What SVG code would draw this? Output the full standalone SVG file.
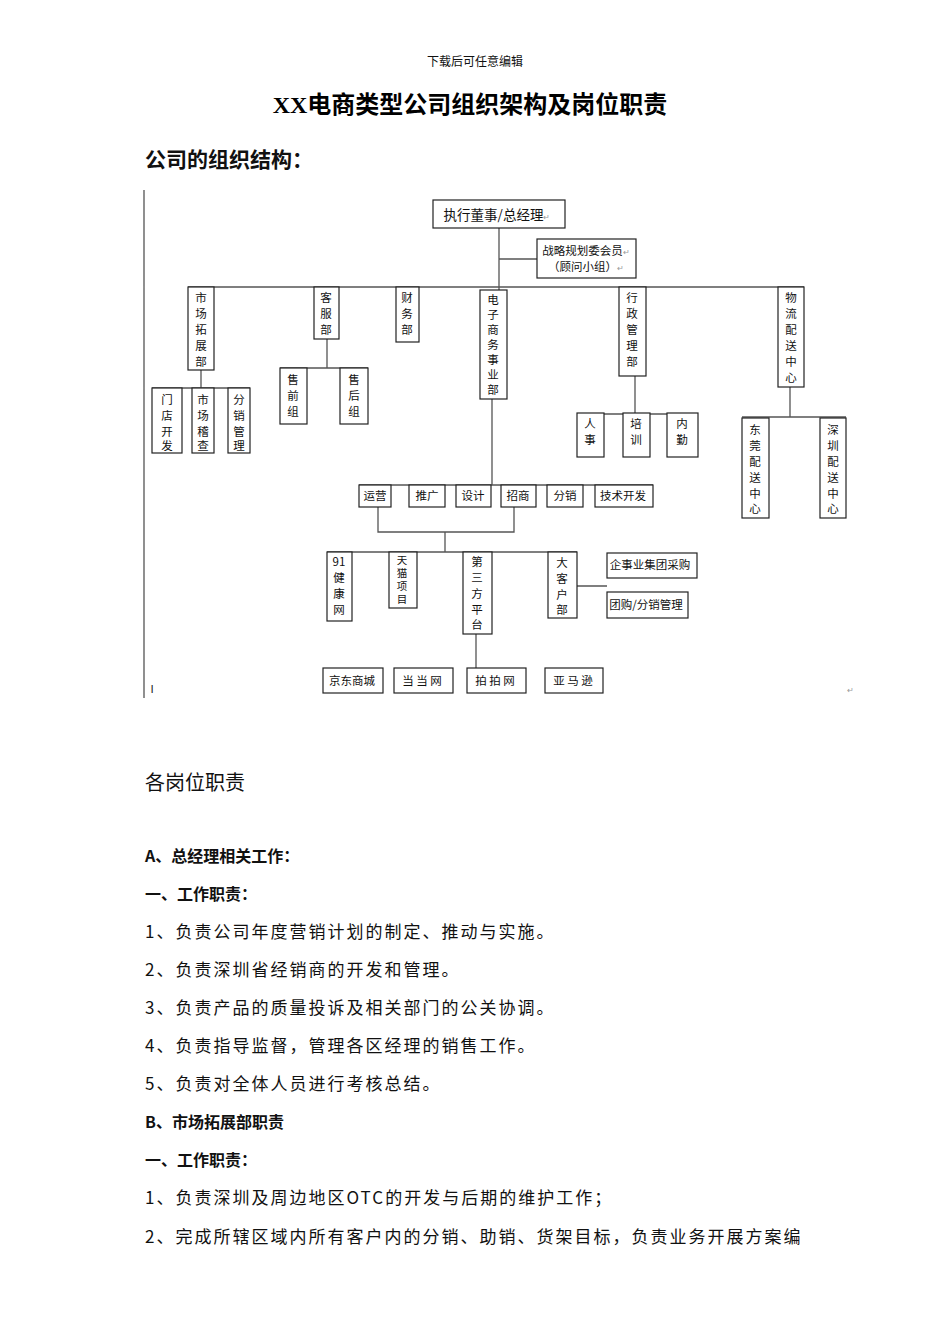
<svg xmlns="http://www.w3.org/2000/svg" width="950" height="1344" viewBox="0 0 950 1344">
<style>
.b{fill:#fff;stroke:#222;stroke-width:1.2}
.l{stroke:#555;stroke-width:1.3;fill:none}
.t{font-family:"Noto Sans CJK SC",sans-serif;font-size:11.5px;fill:#111;text-anchor:middle}
.r{fill:#999;font-size:8px}
.s{font-size:10.5px}
.body{font-family:"Noto Sans CJK SC",sans-serif;font-size:17px;fill:#111;letter-spacing:2px}
.bold{font-weight:bold}
</style>
<rect width="950" height="1344" fill="#fff"/>
<text x="475" y="66" class="t" style="font-size:12px">下载后可任意编辑</text>
<text x="470" y="113" style="font-family:'Liberation Serif','Noto Sans CJK SC',serif;font-size:24px;font-weight:bold;text-anchor:middle">XX电商类型公司组织架构及岗位职责</text>
<text x="145" y="167" class="body bold" style="font-size:21px;letter-spacing:0">公司的组织结构：</text>
<g id="connectors">
<path class="l" d="M144 190V698M499 228V290M499 259H537M188 287H804M201 370V388M152 388H250M327 339V368M280 368H368M635 376V414M577 414H698M790 387V417M742 417H846M492 399V485M359 485H653M378 507V532H514V507M445 532V552M327 552H577M577 586H607M476 634V668"/>
</g>
<g id="n0"><rect class="b" x="433" y="200" width="132" height="28"/><text class="t" x="497" y="220" style="font-size:13.5px">执行董事/总经理<tspan class="r">↵</tspan></text></g>
<g id="n1"><rect class="b" x="537" y="239" width="99" height="39"/><text class="t" x="586" y="255">战略规划委会员<tspan class="r">↵</tspan></text><text class="t" x="586" y="271">（顾问小组）<tspan class="r">↵</tspan></text></g>
<g id="v" class="t">
<rect class="b" x="188" y="287" width="26" height="83"/><text x="201" y="302">市</text><text x="201" y="318">场</text><text x="201" y="334">拓</text><text x="201" y="350">展</text><text x="201" y="366">部</text>
<rect class="b" x="314" y="287" width="25" height="52"/><text x="326" y="302">客</text><text x="326" y="318">服</text><text x="326" y="334">部</text>
<rect class="b" x="396" y="287" width="23" height="55"/><text x="407" y="302">财</text><text x="407" y="318">务</text><text x="407" y="334">部</text>
<rect class="b" x="480" y="290" width="27" height="109"/><text x="493" y="304">电</text><text x="493" y="319">子</text><text x="493" y="334">商</text><text x="493" y="349">务</text><text x="493" y="364">事</text><text x="493" y="379">业</text><text x="493" y="394">部</text>
<rect class="b" x="619" y="287" width="27" height="89"/><text x="632" y="302">行</text><text x="632" y="318">政</text><text x="632" y="334">管</text><text x="632" y="350">理</text><text x="632" y="366">部</text>
<rect class="b" x="778" y="287" width="26" height="100"/><text x="791" y="302">物</text><text x="791" y="318">流</text><text x="791" y="334">配</text><text x="791" y="350">送</text><text x="791" y="366">中</text><text x="791" y="382">心</text>
<rect class="b" x="152" y="388" width="30" height="65"/><text x="167" y="404">门</text><text x="167" y="420">店</text><text x="167" y="436">开</text><text x="167" y="450">发</text>
<rect class="b" x="192" y="388" width="22" height="65"/><text x="203" y="404">市</text><text x="203" y="420">场</text><text x="203" y="436">稽</text><text x="203" y="450">查</text>
<rect class="b" x="228" y="388" width="22" height="65"/><text x="239" y="404">分</text><text x="239" y="420">销</text><text x="239" y="436">管</text><text x="239" y="450">理</text>
<rect class="b" x="280" y="368" width="27" height="56"/><text x="293" y="384">售</text><text x="293" y="400">前</text><text x="293" y="416">组</text>
<rect class="b" x="340" y="368" width="28" height="56"/><text x="354" y="384">售</text><text x="354" y="400">后</text><text x="354" y="416">组</text>
<rect class="b" x="577" y="413" width="27" height="44"/><text x="590" y="428">人</text><text x="590" y="444">事</text>
<rect class="b" x="623" y="413" width="27" height="44"/><text x="636" y="428">培</text><text x="636" y="444">训</text>
<rect class="b" x="667" y="413" width="31" height="44"/><text x="682" y="428">内</text><text x="682" y="444">勤</text>
<rect class="b" x="742" y="418" width="27" height="100"/><text x="755" y="434">东</text><text x="755" y="450">莞</text><text x="755" y="466">配</text><text x="755" y="482">送</text><text x="755" y="498">中</text><text x="755" y="513">心</text>
<rect class="b" x="820" y="418" width="26" height="100"/><text x="833" y="434">深</text><text x="833" y="450">圳</text><text x="833" y="466">配</text><text x="833" y="482">送</text><text x="833" y="498">中</text><text x="833" y="513">心</text>
<rect class="b" x="359" y="485" width="32" height="22"/><text x="375" y="500">运营</text>
<rect class="b" x="409" y="485" width="36" height="22"/><text x="427" y="500">推广</text>
<rect class="b" x="456" y="485" width="35" height="22"/><text x="473" y="500">设计</text>
<rect class="b" x="501" y="485" width="35" height="22"/><text x="518" y="500">招商</text>
<rect class="b" x="547" y="485" width="36" height="22"/><text x="565" y="500">分销</text>
<rect class="b" x="595" y="485" width="58" height="22"/><text x="623" y="500">技术开发</text>
<rect class="b" x="327" y="552" width="25" height="69"/><text x="339" y="566">91</text><text x="339" y="582">健</text><text x="339" y="598">康</text><text x="339" y="614">网</text>
<rect class="b" x="389" y="552" width="28" height="56"/><text class="s" x="402" y="564">天</text><text class="s" x="402" y="577">猫</text><text class="s" x="402" y="590">项</text><text class="s" x="402" y="603">目</text>
<rect class="b" x="463" y="552" width="29" height="82"/><text x="477" y="566">第</text><text x="477" y="582">三</text><text x="477" y="598">方</text><text x="477" y="614">平</text><text x="477" y="629">台</text>
<rect class="b" x="548" y="552" width="29" height="66"/><text x="562" y="567">大</text><text x="562" y="583">客</text><text x="562" y="599">户</text><text x="562" y="614">部</text>
<rect class="b" x="607" y="553" width="90" height="25"/><text x="650" y="569">企事业集团采购</text>
<rect class="b" x="607" y="592" width="81" height="26"/><text x="646" y="609">团购/分销管理</text>
<rect class="b" x="323" y="668" width="60" height="25"/><text x="352" y="685">京东商城</text>
<rect class="b" x="394" y="668" width="59" height="25"/><text x="422" y="685">当 当 网</text>
<rect class="b" x="467" y="668" width="59" height="25"/><text x="495" y="685">拍 拍 网</text>
<rect class="b" x="545" y="668" width="58" height="25"/><text x="573" y="685">亚 马 逊</text>
<text x="152" y="693" style="font-size:11px">I</text><text x="850" y="693" class="r">↵</text>
</g>
<text x="145" y="790" class="body" style="font-size:20px;letter-spacing:0">各岗位职责</text>
<g class="body">
<text x="145" y="862" class="bold" style="letter-spacing:0;font-size:16px">A、总经理相关工作：</text>
<text x="145" y="900" class="bold" style="letter-spacing:0;font-size:16px">一、工作职责：</text>
<text x="145" y="938">1、负责公司年度营销计划的制定、推动与实施。</text>
<text x="145" y="976">2、负责深圳省经销商的开发和管理。</text>
<text x="145" y="1014">3、负责产品的质量投诉及相关部门的公关协调。</text>
<text x="145" y="1052">4、负责指导监督，管理各区经理的销售工作。</text>
<text x="145" y="1090">5、负责对全体人员进行考核总结。</text>
<text x="145" y="1128" class="bold" style="letter-spacing:0;font-size:16px">B、市场拓展部职责</text>
<text x="145" y="1166" class="bold" style="letter-spacing:0;font-size:16px">一、工作职责：</text>
<text x="145" y="1204">1、负责深圳及周边地区OTC的开发与后期的维护工作；</text>
<text x="145" y="1243">2、完成所辖区域内所有客户内的分销、助销、货架目标，负责业务开展方案编</text>
</g>
</svg>
